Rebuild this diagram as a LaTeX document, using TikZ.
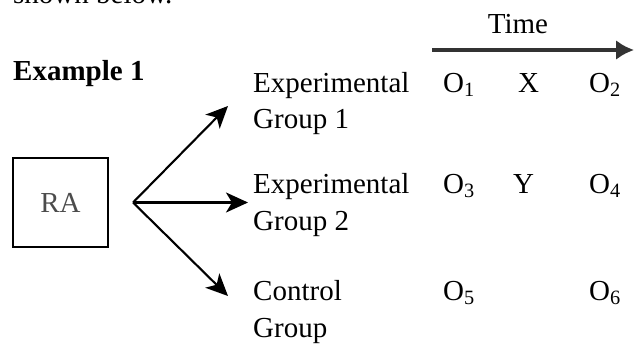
\documentclass[tikz,border=0pt]{standalone}
\usepackage{fontspec}
\setmainfont{Liberation Serif}
\usetikzlibrary{arrows.meta}
\tikzset{
	lbl/.style={anchor=base west, inner sep=0pt},
	branch/.style={line width=2.1pt, -{Stealth[length=22pt,width=20pt,inset=6pt]}}
}

\begin{document}
\begin{tikzpicture}[x=1pt,y=-1pt,font=\fontsize{29}{35}\selectfont]
			\clip (0,0) rectangle (634,348);
			\node[lbl] (intro) at (13,3) {shown below.};
			\node[lbl] (title) at (13,80) {\bfseries Example 1};
			% random assignment box
			\node[draw, line width=1.4pt, minimum width=95pt, minimum height=89pt, text=black!70] (ra) at (60.5,202.5) {RA};
			\coordinate (split) at (133,202.5);
			\coordinate (tip1) at (228,106);
			\coordinate (tip2) at (248,202.5);
			\coordinate (tip3) at (228,296);
			\draw[branch] (split) -- (tip1);
			\draw[branch] (split) -- (tip2);
			\draw[branch] (split) -- (tip3);
			% groups
			\node[lbl] (exp1) at (253,92) {Experimental};
			\node[lbl] (grp1) at (253,128) {Group 1};
			\node[lbl] (exp2) at (253,193) {Experimental};
			\node[lbl] (grp2) at (253,230) {Group 2};
			\node[lbl] (ctl) at (253,300) {Control};
			\node[lbl] (grp3) at (253,337) {Group};
			% observations
			\node[lbl] (o1) at (443,92) {O\textsubscript{1}};
			\node[lbl] (x) at (518,92) {X};
			\node[lbl] (o2) at (589,92) {O\textsubscript{2}};
			\node[lbl] (o3) at (443,193) {O\textsubscript{3}};
			\node[lbl] (y) at (513,193) {Y};
			\node[lbl] (o4) at (589,193) {O\textsubscript{4}};
			\node[lbl] (o5) at (443,300) {O\textsubscript{5}};
			\node[lbl] (o6) at (589,300) {O\textsubscript{6}};
			% time axis
			\node[inner sep=0pt, anchor=base] (time) at (518,33) {Time};
			\coordinate (tstart) at (432,50);
			\coordinate (tend) at (634,50);
			\draw[line width=4pt, black!80, -{Latex[length=18pt,width=20pt]}] (tstart) -- (tend);
		\end{tikzpicture}
\end{document}
